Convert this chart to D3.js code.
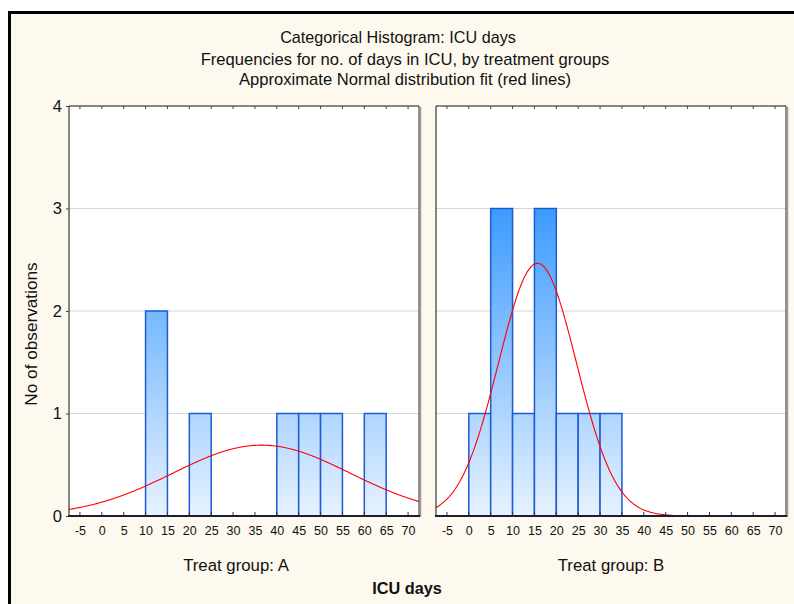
<!DOCTYPE html>
<html>
<head>
<meta charset="utf-8">
<script src="https://cdn.jsdelivr.net/npm/d3@7"></script>
<style>
  html, body { margin: 0; padding: 0; background: #ffffff; }
  svg { display: block; font-family: "Liberation Sans", Arial, sans-serif; }
</style>
</head>
<body>
<svg id="chart" width="794" height="604"></svg>
<script>
// Bin edges (lower bound of each 5-day bin) and counts per treatment group
const binStartsA = [10, 20, 40, 45, 50, 60];
const countsA    = [2, 1, 1, 1, 1, 1];
const binStartsB = [0, 5, 10, 15, 20, 25, 30];
const countsB    = [1, 3, 1, 3, 1, 1, 1];
const binWidth = 5;

// Normal fit parameters (mean, sd, n) for each group
const fitA = { mean: 36.5, sd: 20.2, n: 7 };
const fitB = { mean: 15.7, sd: 8.9, n: 11 };

const xTicks = [-5, 0, 5, 10, 15, 20, 25, 30, 35, 40, 45, 50, 55, 60, 65, 70];
const yTicks = [0, 1, 2, 3, 4];
const groupLabels = ["Treat group: A", "Treat group: B"];
const titleLines = [
  "Categorical Histogram: ICU days",
  "Frequencies for no. of days in ICU, by treatment groups",
  "Approximate Normal distribution fit (red lines)"
];

const svg = d3.select("#chart");
const W = 794, H = 604;

// page background and outer frame
svg.append("rect").attr("x", 0).attr("y", 0).attr("width", W).attr("height", H).attr("fill", "#ffffff");
svg.append("rect").attr("x", 9.5).attr("y", 12.5).attr("width", W).attr("height", H)
  .attr("fill", "#fdf9ef").attr("stroke", "#000").attr("stroke-width", 3);

// titles
const titleY = [43, 65, 85];
const titleX = [398, 405, 405];
const titleSize = [16.2, 16.6, 16.6];
titleLines.forEach((t, i) => {
  svg.append("text").attr("x", titleX[i]).attr("y", titleY[i])
    .attr("text-anchor", "middle").attr("font-size", titleSize[i]).attr("fill", "#111").text(t);
});

const plotTop = 106, plotBottom = 516;
const y = d3.scaleLinear().domain([0, 4]).range([plotBottom, plotTop]);

const panels = [
  { left: 69, right: 419, starts: binStartsA, counts: countsA, fit: fitA, label: groupLabels[0], labelShift: -8, id: "A" },
  { left: 436, right: 786, starts: binStartsB, counts: countsB, fit: fitB, label: groupLabels[1], labelShift: 0, id: "B" }
];

const defs = svg.append("defs");
const tickText = d => String(d);

panels.forEach((p, pi) => {
  const x = d3.scaleLinear().domain([-7.5, 72.5]).range([p.left, p.right]);
  const g = svg.append("g");

  // vertical fill gradient shared by all bars of the panel
  const grad = defs.append("linearGradient").attr("id", "barFill" + p.id)
    .attr("gradientUnits", "userSpaceOnUse")
    .attr("x1", 0).attr("x2", 0).attr("y1", y(3)).attr("y2", y(0));
  grad.append("stop").attr("offset", 0).attr("stop-color", "#3d9bff");
  grad.append("stop").attr("offset", 1).attr("stop-color", "#e7f2ff");

  defs.append("clipPath").attr("id", "clip" + p.id)
    .append("rect").attr("x", p.left).attr("y", plotTop).attr("width", p.right - p.left).attr("height", plotBottom - plotTop);

  // plot area
  g.append("rect").attr("x", p.left).attr("y", plotTop).attr("width", p.right - p.left).attr("height", plotBottom - plotTop)
    .attr("fill", "#ffffff");

  // horizontal gridlines
  g.selectAll("line.grid").data(yTicks.filter(v => v > 0 && v < 4)).enter().append("line")
    .attr("x1", p.left).attr("x2", p.right)
    .attr("y1", d => y(d)).attr("y2", d => y(d))
    .attr("stroke", "#d6d6d6").attr("stroke-width", 1);

  // bars
  const bins = p.starts.map((s, i) => ({ start: s, count: p.counts[i] }));
  g.selectAll("rect.bar").data(bins).enter().append("rect")
    .attr("x", d => x(d.start))
    .attr("y", d => y(d.count))
    .attr("width", d => x(d.start + binWidth) - x(d.start))
    .attr("height", d => y(0) - y(d.count))
    .attr("fill", "url(#barFill" + p.id + ")")
    .attr("stroke", "#1d5bd4").attr("stroke-width", 1.5);

  // normal fit curve, scaled to expected counts per bin
  const f = p.fit;
  const pts = d3.range(-7.5, 72.6, 0.25).map(v => {
    const z = (v - f.mean) / f.sd;
    return [v, f.n * binWidth * Math.exp(-0.5 * z * z) / (f.sd * Math.sqrt(2 * Math.PI))];
  });
  g.append("path").datum(pts)
    .attr("clip-path", "url(#clip" + p.id + ")")
    .attr("d", d3.line().x(d => x(d[0])).y(d => y(d[1])))
    .attr("fill", "none").attr("stroke", "#ff0000").attr("stroke-width", 1.1);

  // frame
  g.append("line").attr("x1", p.left).attr("x2", p.right).attr("y1", plotTop).attr("y2", plotTop).attr("stroke", "#111");
  g.append("line").attr("x1", p.left).attr("x2", p.left).attr("y1", plotTop).attr("y2", plotBottom).attr("stroke", "#111");
  g.append("line").attr("x1", p.right).attr("x2", p.right).attr("y1", plotTop).attr("y2", plotBottom).attr("stroke", "#222");
  g.append("line").attr("x1", p.right + 1.5).attr("x2", p.right + 1.5).attr("y1", plotTop + 1).attr("y2", plotBottom + 1)
    .attr("stroke", "#9a9a9a").attr("stroke-width", 1.5);

  // inward ticks on top edge
  g.selectAll("line.ttick").data(xTicks).enter().append("line")
    .attr("x1", d => x(d)).attr("x2", d => x(d))
    .attr("y1", plotTop).attr("y2", plotTop + 3)
    .attr("stroke", "#444");

  // bottom axis
  const axis = d3.axisBottom(x).tickValues(xTicks).tickSize(0).tickPadding(10).tickFormat(tickText);
  const ax = g.append("g").attr("transform", `translate(0,${plotBottom})`).call(axis);
  ax.select(".domain").remove();
  ax.selectAll("text").attr("font-size", 12.5).attr("fill", "#111").attr("font-family", "Liberation Sans, Arial, sans-serif");
  g.selectAll("line.btick").data(xTicks).enter().append("line")
    .attr("x1", d => x(d)).attr("x2", d => x(d))
    .attr("y1", plotBottom).attr("y2", plotBottom - 4)
    .attr("stroke", "#333");
  g.append("line").attr("x1", p.left - 1).attr("x2", p.right + 1).attr("y1", plotBottom).attr("y2", plotBottom)
    .attr("stroke", "#1c1c38").attr("stroke-width", 2);

  // group label
  g.append("text").attr("x", (p.left + p.right) / 2 + p.labelShift).attr("y", 571)
    .attr("text-anchor", "middle").attr("font-size", 16.8).attr("fill", "#111").text(p.label);

  // y axis labels on the first panel only
  if (pi === 0) {
    const yAxis = d3.axisLeft(y).tickValues(yTicks).tickSize(3).tickPadding(4).tickFormat(tickText);
    const ya = g.append("g").attr("transform", `translate(${p.left},0)`).call(yAxis);
    ya.select(".domain").remove();
    ya.selectAll("line").attr("stroke", "#444");
    ya.selectAll("text").attr("font-size", 16.5).attr("fill", "#111").attr("font-family", "Liberation Sans, Arial, sans-serif");
  }
});

// axis titles
svg.append("text").attr("transform", "translate(37,334) rotate(-90)")
  .attr("text-anchor", "middle").attr("font-size", 17.2).attr("fill", "#111").text("No of observations");
svg.append("text").attr("x", 407).attr("y", 594)
  .attr("text-anchor", "middle").attr("font-size", 16.3).attr("font-weight", "bold").attr("fill", "#111").text("ICU days");
</script>
</body>
</html>
